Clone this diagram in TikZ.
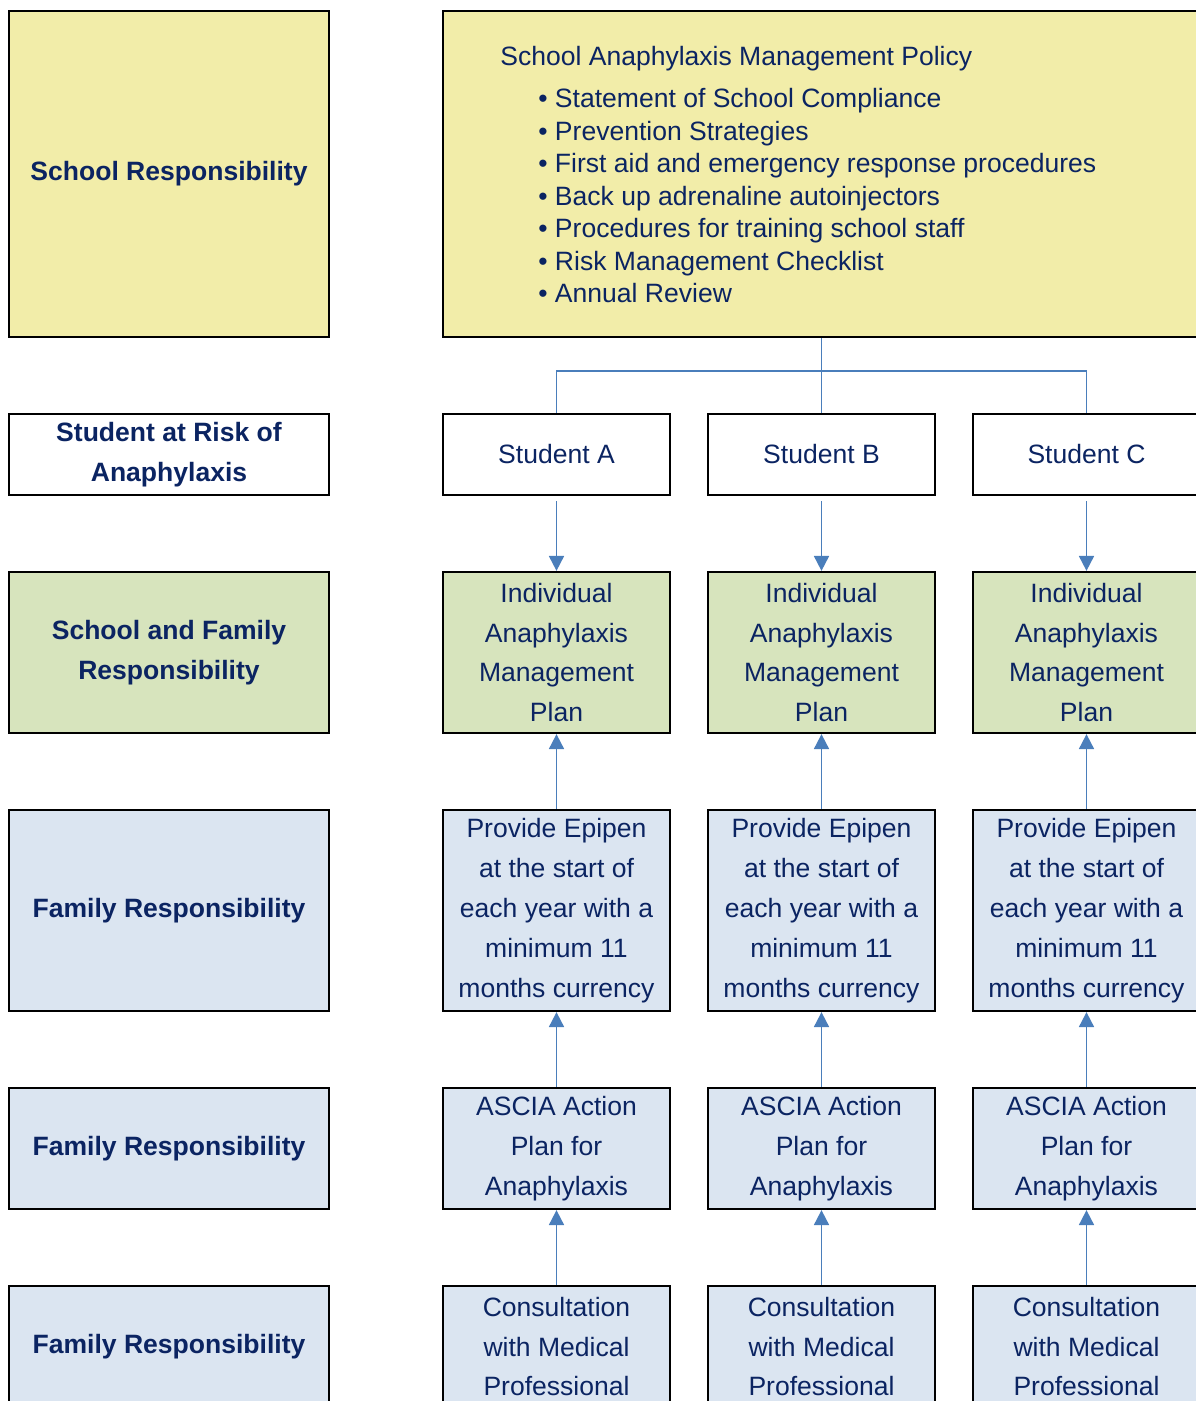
\documentclass[tikz,border=0pt]{standalone}
\usepackage{fontspec}
\setmainfont{Liberation Sans}
\usetikzlibrary{arrows.meta}
\definecolor{navytxt}{HTML}{0B2462}
\definecolor{yelbox}{HTML}{F2EDA9}
\definecolor{grnbox}{HTML}{D7E4BD}
\definecolor{blubox}{HTML}{DBE5F1}
\definecolor{arrowblu}{HTML}{4A7EBB}
\newcommand{\boxfont}{\fontsize{15.1}{22.7}\selectfont}

\tikzset{
	box/.style={draw=black, line width=1.3pt, inner sep=0pt, text=navytxt, align=center, font=\boxfont},
	sidebox/.style={box, minimum width=6.4cm, font=\boxfont\bfseries},
	colbox/.style={box, minimum width=4.54cm},
	flow/.style={draw=arrowblu, line width=1.1pt, -{Triangle[width=8.5pt,length=8.5pt]}},
	link/.style={draw=arrowblu, line width=1.1pt}
}

\begin{document}
\begin{tikzpicture}[x=0.02cm, y=-0.02cm]

	\useasboundingbox (0, 0) rectangle (1196, 1401);
	\clip (0, 0) rectangle (1196, 1401);

	% left column
	\node[sidebox, fill=yelbox, minimum height=6.52cm] (schoolresp) at (169, 174) {School Responsibility};
	\node[sidebox, fill=white, minimum height=1.62cm] (riskresp) at (169, 454.5) {Student at Risk of\\Anaphylaxis};
	\node[sidebox, fill=grnbox, minimum height=3.22cm] (jointresp) at (169, 652.5) {School and Family\\Responsibility};
	\node[sidebox, fill=blubox, minimum height=4.02cm] (famresp1) at (169, 910.5) {Family Responsibility};
	\node[sidebox, fill=blubox, minimum height=2.42cm] (famresp2) at (169, 1148.5) {Family Responsibility};
	\node[sidebox, fill=blubox, minimum height=2.42cm] (famresp3) at (169, 1346.5) {Family Responsibility};

	% policy
	\node[box, fill=yelbox, minimum width=15.14cm, minimum height=6.52cm] (policy) at (821.5, 174) {};
	\node[anchor=west, inner sep=0pt, text=navytxt, font=\boxfont] (policytitle) at (500, 59) {School Anaphylaxis Management Policy};
	\node[anchor=north west, inner sep=0pt, align=left, text=navytxt, font=\fontsize{15.1}{18.5}\selectfont] (policylist) at (538, 88) {%
		\textbullet~Statement of School Compliance\\
		\textbullet~Prevention Strategies\\
		\textbullet~First aid and emergency response procedures\\
		\textbullet~Back up adrenaline autoinjectors\\
		\textbullet~Procedures for training school staff\\
		\textbullet~Risk Management Checklist\\
		\textbullet~Annual Review};

	% student A
	\node[colbox, fill=white, minimum height=1.62cm] (stuA) at (556.5, 454.5) {Student A};
	\node[colbox, fill=grnbox, minimum height=3.22cm] (planA) at (556.5, 652.5) {Individual\\Anaphylaxis\\Management\\Plan};
	\node[colbox, fill=blubox, minimum height=4.02cm] (epiA) at (556.5, 910.5) {Provide Epipen\\at the start of\\each year with a\\minimum 11\\months currency};
	\node[colbox, fill=blubox, minimum height=2.42cm] (asciaA) at (556.5, 1148.5) {ASCIA Action\\Plan for\\Anaphylaxis};
	\node[colbox, fill=blubox, minimum height=2.42cm] (consA) at (556.5, 1346.5) {Consultation\\with Medical\\Professional};

	% student B
	\node[colbox, fill=white, minimum height=1.62cm] (stuB) at (821.5, 454.5) {Student B};
	\node[colbox, fill=grnbox, minimum height=3.22cm] (planB) at (821.5, 652.5) {Individual\\Anaphylaxis\\Management\\Plan};
	\node[colbox, fill=blubox, minimum height=4.02cm] (epiB) at (821.5, 910.5) {Provide Epipen\\at the start of\\each year with a\\minimum 11\\months currency};
	\node[colbox, fill=blubox, minimum height=2.42cm] (asciaB) at (821.5, 1148.5) {ASCIA Action\\Plan for\\Anaphylaxis};
	\node[colbox, fill=blubox, minimum height=2.42cm] (consB) at (821.5, 1346.5) {Consultation\\with Medical\\Professional};

	% student C
	\node[colbox, fill=white, minimum height=1.62cm] (stuC) at (1086.5, 454.5) {Student C};
	\node[colbox, fill=grnbox, minimum height=3.22cm] (planC) at (1086.5, 652.5) {Individual\\Anaphylaxis\\Management\\Plan};
	\node[colbox, fill=blubox, minimum height=4.02cm] (epiC) at (1086.5, 910.5) {Provide Epipen\\at the start of\\each year with a\\minimum 11\\months currency};
	\node[colbox, fill=blubox, minimum height=2.42cm] (asciaC) at (1086.5, 1148.5) {ASCIA Action\\Plan for\\Anaphylaxis};
	\node[colbox, fill=blubox, minimum height=2.42cm] (consC) at (1086.5, 1346.5) {Consultation\\with Medical\\Professional};

	% policy to students
	\coordinate (fork) at (821.5, 371);
	\draw[link] (policy) -- (stuB);
	\draw[link] (stuA.north) |- (fork) -| (stuC.north);

	\draw[flow, shorten <=3pt] (stuA) -- (planA);
	\draw[flow, shorten <=3pt] (stuB) -- (planB);
	\draw[flow, shorten <=3pt] (stuC) -- (planC);

	\draw[flow] (epiA) -- (planA);
	\draw[flow] (epiB) -- (planB);
	\draw[flow] (epiC) -- (planC);

	\draw[flow] (asciaA) -- (epiA);
	\draw[flow] (asciaB) -- (epiB);
	\draw[flow] (asciaC) -- (epiC);

	\draw[flow] (consA) -- (asciaA);
	\draw[flow] (consB) -- (asciaB);
	\draw[flow] (consC) -- (asciaC);
\end{tikzpicture}
\end{document}
